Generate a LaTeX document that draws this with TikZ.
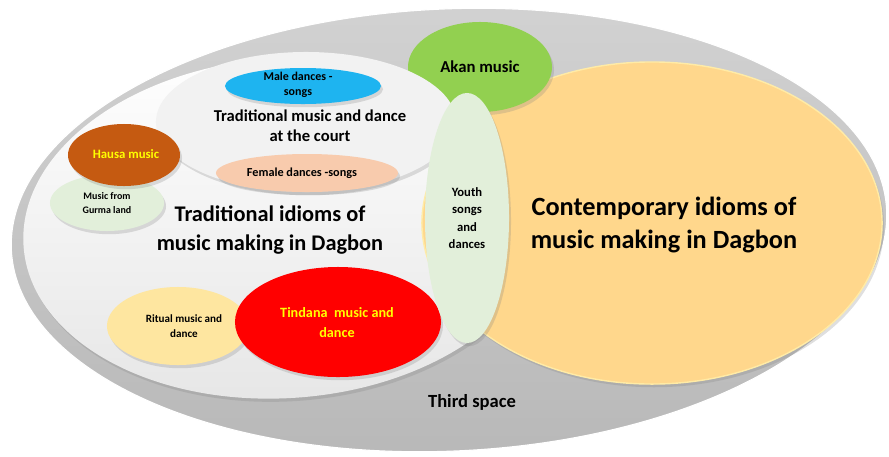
\documentclass[tikz,border=0pt]{standalone}
\usepackage{fontspec}
\setmainfont{Carlito}
\usetikzlibrary{shapes.geometric, shadows}

\definecolor{spacetop}{HTML}{D2D2D2}
\definecolor{spacebot}{HTML}{B8B8B8}
\definecolor{tradbot}{HTML}{E6E6E6}
\definecolor{contfill}{HTML}{FFD78C}
\definecolor{contrim}{HTML}{FFEBA6}
\definecolor{akanfill}{HTML}{92D050}
\definecolor{courtfill}{HTML}{F2F2F2}
\definecolor{malefill}{HTML}{1EB4F0}
\definecolor{femalefill}{HTML}{F8CBAD}
\definecolor{gurmafill}{HTML}{E2EFDA}
\definecolor{hausafill}{HTML}{C55A11}
\definecolor{ritualfill}{HTML}{FEE6A0}
\definecolor{youthfill}{HTML}{E2EFDA}
\definecolor{gold}{HTML}{FFFF00}

\tikzset{
  blob/.style 2 args={ellipse, inner sep=0pt, minimum width=#1*0.05cm, minimum height=#2*0.05cm},
  soft/.style={drop shadow={opacity=0.25, shadow xshift=0.5mm, shadow yshift=-0.8mm}},
  lbl/.style 2 args={font=\bfseries\fontsize{#1}{#2}\selectfont, align=center, inner sep=0pt},
}

\begin{document}
\begin{tikzpicture}[x=0.025cm, y=-0.025cm]
  \useasboundingbox (0,0) rectangle (889,456);

  % the three big areas
  \node[blob={438}{221}, rotate=2.6, top color=spacetop, bottom color=spacebot, draw=white, line width=0.8pt] (space) at (449,230) {};
  \node[blob={262}{170}, rotate=4, top color=white, bottom color=tradbot, soft] (trad) at (285,228) {};
  \node[blob={230}{161}, fill=contfill, draw=contrim, line width=1pt, soft] (cont) at (652,223) {};

  % smaller idioms
  \node[blob={72}{45}, fill=akanfill, soft] (akan) at (480,67) {};
  \node[blob={150}{70}, fill=courtfill, soft] (court) at (306,122) {};
  \node[blob={78}{18}, fill=malefill, soft] (male) at (303,86) {};
  \node[blob={91}{19}, fill=femalefill, soft] (female) at (307,173) {};
  \node[blob={57}{28}, fill=gurmafill, soft] (gurma) at (107,203) {};
  \node[blob={56}{31}, fill=hausafill, soft] (hausa) at (124,155) {};
  \node[blob={71}{39}, fill=ritualfill, soft] (ritual) at (178,326) {};
  \node[blob={103}{55}, fill=red, soft] (tindana) at (338,322) {};
  \node[blob={42}{125}, fill=youthfill, soft] (youth) at (467,218) {};

  % labels
  \node[lbl={8.5}{10.7}] (malet) at (298,85) {Male dances -\\songs};
  \node[lbl={11.8}{14.2}] (courtt) at (310,126) {Traditional music and dance\\at the court};
  \node[lbl={8.7}{10.5}] (femalet) at (302,173) {Female dances -songs};
  \node[lbl={9.1}{11}, text=gold] (hausat) at (126,154) {Hausa music};
  \node[lbl={7.1}{10}] (gurmat) at (107,203) {Music from\\Gurma land};
  \node[lbl={15.9}{20.6}] (tradt) at (270,230) {Traditional idioms of\\music making in Dagbon};
  \node[lbl={7.9}{10.7}] (ritualt) at (184,326) {Ritual music and\\dance};
  \node[lbl={10.1}{14.2}, text=gold] (tindanat) at (337,323) {Tindana~ music and\\dance};
  \node[lbl={11.9}{14}] (akant) at (480,67) {Akan music};
  \node[lbl={9}{12.4}] (youtht) at (467,218) {Youth\\songs\\and\\dances};
  \node[lbl={18.7}{23.5}] (contt) at (664,225) {Contemporary idioms of\\music making in Dagbon};
  \node[lbl={13.2}{15}] (spacet) at (472,402) {Third space};
\end{tikzpicture}
\end{document}
